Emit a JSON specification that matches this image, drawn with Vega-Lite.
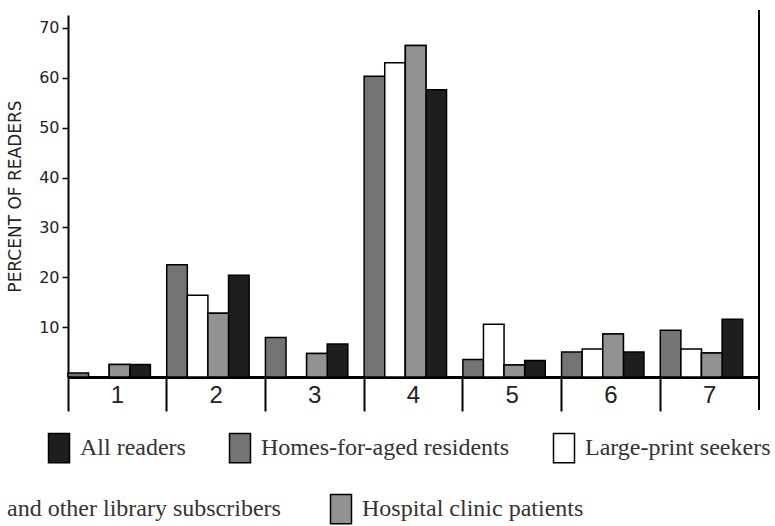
{
  "$schema": "https://vega.github.io/schema/vega-lite/v6.json",
  "width": 691,
  "height": 362,
  "autosize": {"type": "none"},
  "padding": {"left": 68, "top": 15, "right": 16, "bottom": 149},
  "background": "white",
  "config": {"view": {"stroke": null}, "axis": {"grid": false}},
  "datasets": {
    "bars": [
      {"category": "1", "series": "Homes-for-aged residents", "percent": 0.8},
      {"category": "1", "series": "Large-print seekers and other library subscribers", "percent": 0},
      {"category": "1", "series": "Hospital clinic patients", "percent": 2.5},
      {"category": "1", "series": "All readers", "percent": 2.5},
      {"category": "2", "series": "Homes-for-aged residents", "percent": 22.5},
      {"category": "2", "series": "Large-print seekers and other library subscribers", "percent": 16.4},
      {"category": "2", "series": "Hospital clinic patients", "percent": 12.8},
      {"category": "2", "series": "All readers", "percent": 20.4},
      {"category": "3", "series": "Homes-for-aged residents", "percent": 7.9},
      {"category": "3", "series": "Large-print seekers and other library subscribers", "percent": 0},
      {"category": "3", "series": "Hospital clinic patients", "percent": 4.7},
      {"category": "3", "series": "All readers", "percent": 6.6},
      {"category": "4", "series": "Homes-for-aged residents", "percent": 60.3},
      {"category": "4", "series": "Large-print seekers and other library subscribers", "percent": 63.0},
      {"category": "4", "series": "Hospital clinic patients", "percent": 66.5},
      {"category": "4", "series": "All readers", "percent": 57.6},
      {"category": "5", "series": "Homes-for-aged residents", "percent": 3.5},
      {"category": "5", "series": "Large-print seekers and other library subscribers", "percent": 10.6},
      {"category": "5", "series": "Hospital clinic patients", "percent": 2.4},
      {"category": "5", "series": "All readers", "percent": 3.3},
      {"category": "6", "series": "Homes-for-aged residents", "percent": 5.0},
      {"category": "6", "series": "Large-print seekers and other library subscribers", "percent": 5.6},
      {"category": "6", "series": "Hospital clinic patients", "percent": 8.6},
      {"category": "6", "series": "All readers", "percent": 5.0},
      {"category": "7", "series": "Homes-for-aged residents", "percent": 9.4},
      {"category": "7", "series": "Large-print seekers and other library subscribers", "percent": 5.6},
      {"category": "7", "series": "Hospital clinic patients", "percent": 4.8},
      {"category": "7", "series": "All readers", "percent": 11.6}
    ]
  },
  "resolve": {"scale": {"fill": "independent"}},
  "layer": [
    {
      "data": {"name": "bars"},
      "mark": {"type": "bar", "stroke": "black", "strokeWidth": 1.5},
      "encoding": {
        "x": {
          "field": "category",
          "type": "nominal",
          "scale": {"paddingInner": 0, "paddingOuter": 0},
          "axis": {
            "title": null,
            "bandPosition": 0,
            "ticks": true,
            "tickSize": 34,
            "tickWidth": 2,
            "tickColor": "black",
            "domainWidth": 3,
            "domainColor": "black",
            "labelAngle": 0,
            "labelFont": "Liberation Sans",
            "labelFontSize": 24,
            "labelColor": "#222222",
            "labelPadding": -28,
            "labelBaseline": "top"
          }
        },
        "xOffset": {
          "field": "series",
          "type": "nominal",
          "scale": {
            "domain": ["Homes-for-aged residents", "Large-print seekers and other library subscribers", "Hospital clinic patients", "All readers"],
            "paddingInner": 0,
            "paddingOuter": 0.396,
            "align": 0
          }
        },
        "y": {
          "field": "percent",
          "type": "quantitative",
          "scale": {"domain": [0, 72.6], "nice": false, "zero": true},
          "axis": {
            "title": "PERCENT OF READERS",
            "values": [10, 20, 30, 40, 50, 60, 70],
            "tickSize": 6,
            "tickWidth": 1.5,
            "tickColor": "black",
            "domainWidth": 2,
            "domainColor": "black",
            "labelFont": "DejaVu Sans",
            "labelFontSize": 16,
            "labelColor": "#222222",
            "labelPadding": 3,
            "titleFont": "DejaVu Sans",
            "titleFontSize": 17,
            "titleFontWeight": "normal",
            "titleColor": "#222222",
            "titlePadding": 14
          }
        },
        "fill": {
          "field": "series",
          "type": "nominal",
          "scale": {
            "domain": ["All readers", "Homes-for-aged residents", "Large-print seekers and other library subscribers", "Hospital clinic patients"],
            "range": ["#1e1e1e", "#747474", "#ffffff", "#929292"]
          },
          "legend": {
            "values": ["All readers", "Homes-for-aged residents", "Large-print seekers and other library subscribers"],
            "orient": "none",
            "legendX": -21,
            "legendY": 421,
            "direction": "horizontal",
            "columns": 3,
            "title": null,
            "padding": 0,
            "columnPadding": 40,
            "labelFont": "Liberation Serif",
            "labelFontSize": 24,
            "labelColor": "#333333",
            "labelOffset": 9,
            "labelLimit": 0,
            "labelExpr": "datum.value === 'Large-print seekers and other library subscribers' ? 'Large-print seekers' : datum.label",
            "symbolType": "M-1,-1.4H1V1.4H-1Z",
            "symbolSize": 441,
            "symbolStrokeWidth": 1.5,
            "symbolStrokeColor": "black",
            "symbolOpacity": 1
          }
        }
      }
    },
    {
      "data": {"name": "bars"},
      "transform": [{"filter": "datum.series === 'Hospital clinic patients'"}],
      "mark": {"type": "bar", "stroke": "black", "strokeWidth": 1.5},
      "encoding": {
        "x": {"field": "category", "type": "nominal"},
        "xOffset": {"field": "series", "type": "nominal"},
        "y": {"field": "percent", "type": "quantitative"},
        "fill": {
          "field": "series",
          "type": "nominal",
          "scale": {
            "domain": ["and other library subscribers", "Hospital clinic patients"],
            "range": ["transparent", "#929292"]
          },
          "legend": {
            "orient": "none",
            "legendX": -94,
            "legendY": 482,
            "direction": "horizontal",
            "columns": 2,
            "title": null,
            "padding": 0,
            "columnPadding": 46,
            "labelFont": "Liberation Serif",
            "labelFontSize": 24,
            "labelColor": "#333333",
            "labelOffset": 9,
            "labelLimit": 0,
            "symbolType": "M-1,-1.4H1V1.4H-1Z",
            "symbolSize": 441,
            "symbolStrokeWidth": 1.5,
            "symbolStrokeColor": "black",
            "symbolOpacity": 1,
            "encode": {
              "symbols": {"update": {"stroke": {"signal": "datum.value === 'and other library subscribers' ? 'transparent' : 'black'"}}}
            }
          }
        }
      }
    },
    {
      "data": {"values": [{"category": "7"}]},
      "mark": {"type": "rule", "strokeWidth": 2, "color": "black"},
      "encoding": {
        "x": {"field": "category", "type": "nominal", "bandPosition": 1},
        "y": {"datum": 73.6},
        "y2": {"datum": -6.6}
      }
    }
  ]
}
